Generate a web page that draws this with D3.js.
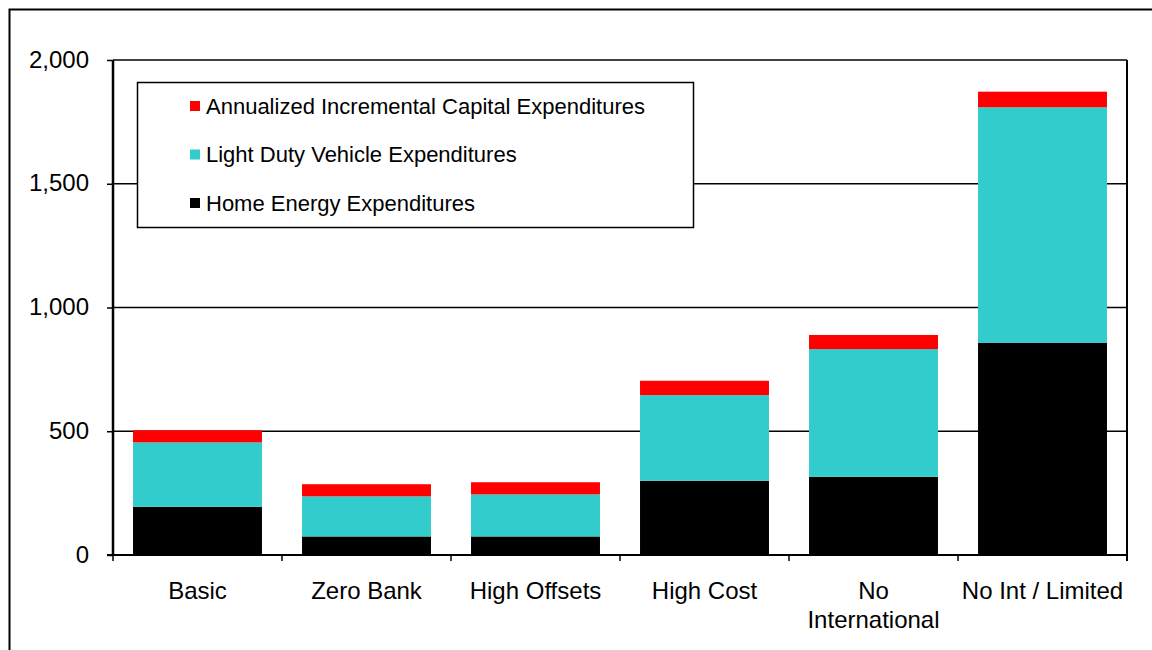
<!DOCTYPE html>
<html>
<head>
<meta charset="utf-8">
<script src="https://cdn.jsdelivr.net/npm/d3@7"></script>
<style>
  html, body { margin: 0; padding: 0; background: #fff; }
  svg { display: block; font-family: "Liberation Sans", Arial, sans-serif; }
</style>
</head>
<body>
<svg id="chart" width="1152" height="650"></svg>
<script>
// ---- data ----
const categories = ["Basic", "Zero Bank", "High Offsets", "High Cost", "No International", "No Int / Limited"];
const categoryLines = [["Basic"], ["Zero Bank"], ["High Offsets"], ["High Cost"], ["No", "International"], ["No Int / Limited"]];
const homeEnergy = [195, 75, 75, 300, 316, 858];
const lightDuty = [260, 162, 170, 346, 516, 951];
const capital = [49, 49, 49, 58, 57, 63];
const seriesNames = ["Home Energy Expenditures", "Light Duty Vehicle Expenditures", "Annualized Incremental Capital Expenditures"];
const seriesColors = ["#000000", "#33CCCC", "#FF0000"];
const yTicks = [0, 500, 1000, 1500, 2000];

// ---- layout ----
const svg = d3.select("#chart");
const plot = { left: 113, right: 1127, top: 60, bottom: 555 };

const x = d3.scaleBand().domain(categories).range([plot.left, plot.right]).paddingInner(0.237).paddingOuter(0.1185);
const y = d3.scaleLinear().domain([0, 2000]).range([plot.bottom, plot.top]);

// outer frame (extends past the right and bottom edges)
svg.append("path")
  .attr("d", `M9.5,660 V9.5 H1160`)
  .attr("fill", "none").attr("stroke", "#000").attr("stroke-width", 2);

// gridlines
svg.append("g").selectAll("line").data(yTicks.filter(d => d > 0)).join("line")
  .attr("x1", plot.left).attr("x2", plot.right)
  .attr("y1", d => y(d)).attr("y2", d => y(d))
  .attr("stroke", "#000").attr("stroke-width", 1.5);

// stacked bars
const rows = categories.map((c, i) => ({ cat: c, s0: homeEnergy[i], s1: lightDuty[i], s2: capital[i] }));
const stack = d3.stack().keys(["s0", "s1", "s2"])(rows);
svg.append("g").selectAll("g").data(stack).join("g")
  .attr("fill", (d, i) => seriesColors[i])
  .selectAll("rect").data(d => d).join("rect")
  .attr("x", d => x(d.data.cat))
  .attr("width", x.bandwidth())
  .attr("y", d => y(d[1]))
  .attr("height", d => y(d[0]) - y(d[1]));

// right border
svg.append("line")
  .attr("x1", plot.right).attr("x2", plot.right)
  .attr("y1", plot.top).attr("y2", plot.bottom + 6)
  .attr("stroke", "#000").attr("stroke-width", 2);

// y axis
const yAxis = d3.axisLeft(y).tickValues(yTicks).tickSize(6).tickPadding(18)
  .tickFormat(d3.format(","));
const gy = svg.append("g").attr("transform", `translate(${plot.left},0)`).call(yAxis);
gy.select(".domain").attr("stroke-width", 2.5).attr("d", `M0,${plot.bottom}V${plot.top}`);
gy.selectAll(".tick line").attr("stroke-width", 1.5);
gy.selectAll(".tick text").attr("font-size", 24).attr("fill", "#000")
  .attr("dy", "0.3em")
  .attr("font-family", "Liberation Sans, Arial, sans-serif");

// x axis line and ticks at band boundaries
const boundaries = d3.range(categories.length + 1).map(i => plot.left + i * (plot.right - plot.left) / categories.length);
svg.append("line")
  .attr("x1", plot.left - 6).attr("x2", plot.right)
  .attr("y1", plot.bottom).attr("y2", plot.bottom)
  .attr("stroke", "#000").attr("stroke-width", 2);
svg.append("g").selectAll("line").data(boundaries).join("line")
  .attr("x1", d => d).attr("x2", d => d)
  .attr("y1", plot.bottom).attr("y2", plot.bottom + 6)
  .attr("stroke", "#000").attr("stroke-width", 1.5);

// category labels
const lbl = svg.append("g").selectAll("text").data(categories).join("text")
  .attr("text-anchor", "middle")
  .attr("font-size", 24)
  .attr("fill", "#000")
  .attr("transform", d => `translate(${x(d) + x.bandwidth() / 2},599)`);
lbl.selectAll("tspan").data((d, i) => categoryLines[i]).join("tspan")
  .attr("x", 0).attr("dy", (d, i) => i === 0 ? 0 : 29)
  .text(d => d);

// legend
const legend = svg.append("g");
legend.append("rect")
  .attr("x", 137.5).attr("y", 82.5).attr("width", 556).attr("height", 145)
  .attr("fill", "#fff").attr("stroke", "#000").attr("stroke-width", 1.5);
const legendOrder = [2, 1, 0];
const li = legend.selectAll("g.item").data(legendOrder).join("g")
  .attr("class", "item")
  .attr("transform", (d, i) => `translate(190,${106 + i * 48.5})`);
li.append("rect").attr("x", 0).attr("y", -5).attr("width", 10).attr("height", 10)
  .attr("fill", d => seriesColors[d]);
li.append("text").attr("x", 16).attr("y", 0).attr("dy", "0.35em")
  .attr("font-size", 22).attr("fill", "#000")
  .text(d => seriesNames[d]);
</script>
</body>
</html>
